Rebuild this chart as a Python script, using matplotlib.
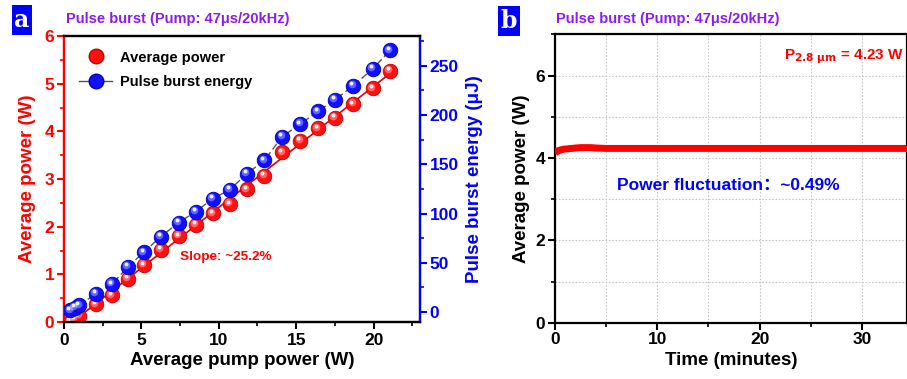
import numpy as np
import matplotlib
matplotlib.use("Agg")
import matplotlib.pyplot as plt
from matplotlib.transforms import offset_copy
from matplotlib.lines import Line2D
from matplotlib.ticker import MultipleLocator

plt.rcParams['font.family'] = ['Liberation Sans', 'Noto Sans CJK SC', 'DejaVu Sans']
plt.rcParams['font.weight'] = 'bold'

# ---------------- data ----------------
pump_power = [0.4, 0.7, 1.0, 2.05, 3.1, 4.13, 5.14, 6.25, 7.4, 8.5, 9.6, 10.7,
              11.8, 12.95, 14.09, 15.25, 16.39, 17.5, 18.69, 19.94, 21.06]
avg_power = [0.01, 0.06, 0.12, 0.37, 0.56, 0.91, 1.19, 1.52, 1.80, 2.04, 2.28, 2.47,
             2.78, 3.07, 3.56, 3.80, 4.06, 4.29, 4.57, 4.90, 5.27]
burst_energy = [1.7, 4.5, 6.8, 18.8, 28.3, 45.9, 60.6, 76.5, 90.8, 101.7, 115.0, 124.0,
                140.2, 153.8, 178.0, 190.5, 203.5, 215.3, 229.6, 246.6, 265.3]

time_min = [0.0, 0.1, 0.25, 0.5, 0.8, 1.2, 1.6, 2.0, 2.5, 3.0, 3.5, 4.0, 4.5, 5.0,
            10.0, 15.0, 20.0, 25.0, 30.0, 35.0]
stab_power = [4.10, 4.14, 4.17, 4.19, 4.21, 4.22, 4.23, 4.24, 4.25, 4.25, 4.25, 4.24, 4.235, 4.23,
              4.23, 4.23, 4.23, 4.23, 4.23, 4.23]

title_txt = "Pulse burst (Pump: 47\u03bcs/20kHz)"
purple = '#8A1CF0'
RED = '#FF0000'
BLUE = '#0000FF'

W, H = 907, 379
fig = plt.figure(figsize=(W / 100, H / 100), dpi=100)


def balls(ax, x, y, color, edge, zorder=5):
    ax.plot(x, y, 'o', ms=10.5, mfc=color, mec=edge, mew=0.6, zorder=zorder, ls='none')
    tr = offset_copy(ax.transData, fig=fig, x=-1.5, y=1.8, units='dots')
    ax.plot(x, y, 'o', ms=5.5, mfc='white', mec='none', alpha=0.35, transform=tr, zorder=zorder + 0.1)
    tr2 = offset_copy(ax.transData, fig=fig, x=-2.0, y=2.6, units='dots')
    ax.plot(x, y, 'o', ms=2.8, mfc='white', mec='none', alpha=0.9, transform=tr2, zorder=zorder + 0.2)


# ---------------- panel a ----------------
axa = fig.add_axes([64 / W, 1 - 322 / H, (420 - 64) / W, (322 - 36) / H])
axa.set_xlim(0, 23)
axa.set_ylim(0, 6)
coef = np.polyfit(pump_power, avg_power, 1)
fx = np.array([pump_power[0], pump_power[-1]])
axa.plot(fx, np.polyval(coef, fx), color='#E00000', lw=1.2, zorder=3)
balls(axa, pump_power, avg_power, '#FF1010', '#C00000')

axb2 = axa.twinx()
axb2.set_ylim(-10, 280)
axb2.plot(pump_power, burst_energy, color='#555555', lw=1.0, ls=(0, (5, 2.5)), zorder=3)
balls(axb2, pump_power, burst_energy, '#1010FF', '#0000B0')

for s in axa.spines.values():
    s.set_linewidth(1.6)
for s in axb2.spines.values():
    s.set_linewidth(1.6)
axb2.spines['left'].set_color(RED)
axb2.spines['right'].set_color(BLUE)
axa.spines['left'].set_color(RED)

axa.xaxis.set_major_locator(MultipleLocator(5))
axa.xaxis.set_minor_locator(MultipleLocator(2.5))
axa.yaxis.set_major_locator(MultipleLocator(1))
axa.yaxis.set_minor_locator(MultipleLocator(0.5))
axb2.yaxis.set_major_locator(MultipleLocator(50))
axb2.yaxis.set_minor_locator(MultipleLocator(25))

axa.tick_params(axis='x', which='major', direction='out', length=5, width=1.5, labelsize=12.5, pad=3)
axa.tick_params(axis='x', which='minor', direction='out', length=3, width=1.2)
axa.tick_params(axis='y', which='major', direction='out', length=5, width=1.5, labelsize=12.5,
                colors=RED, pad=2)
axa.tick_params(axis='y', which='minor', direction='out', length=3, width=1.2, colors=RED)
axb2.tick_params(axis='y', which='major', direction='out', length=5, width=1.5, labelsize=12.5,
                 colors=BLUE, pad=2)
axb2.tick_params(axis='y', which='minor', direction='out', length=3, width=1.2, colors=BLUE)
for lab in axa.get_xticklabels() + axa.get_yticklabels() + axb2.get_yticklabels():
    lab.set_fontweight('bold')

axa.set_xlabel('Average pump power (W)', fontsize=13.5, fontweight='bold', labelpad=3)
axa.set_ylabel('Average power (W)', fontsize=13.5, fontweight='bold', color=RED, labelpad=6)
axb2.set_ylabel('Pulse burst energy (\u03bcJ)', fontsize=13.5, fontweight='bold', color=BLUE, labelpad=5)

axa.text(180 / W, 1 - 257 / H, 'Slope: ~25.2%', transform=fig.transFigure, color=RED,
         fontsize=9.7, fontweight='bold', va='center', ha='left')

# legend
h1 = Line2D([], [], ls='none', marker='o', ms=10.5, mfc='#FF1010', mec='#C00000')
h2 = Line2D([], [], color='#555555', lw=1.0, marker='o', ms=10.5, mfc='#1010FF', mec='#0000B0')
leg = axb2.legend([h1, h2], ['Average power', 'Pulse burst energy'], loc='upper left',
                  bbox_to_anchor=(0.005, 0.995), frameon=False, fontsize=10.5,
                  handlelength=2.3, labelspacing=0.75, handletextpad=0.5)
for t in leg.get_texts():
    t.set_fontweight('bold')

fig.text(66 / W, 1 - 19 / H, title_txt, color=purple, fontsize=10.5, fontweight='bold',
         va='center', ha='left')
fig.text(22 / W, 1 - 20 / H, 'a', color='white', fontsize=17, fontweight='bold',
         family='DejaVu Serif', ha='center', va='center',
         bbox=dict(boxstyle='square,pad=0.12', fc='#0000FF', ec='none'))

# ---------------- panel b ----------------
axc = fig.add_axes([555 / W, 1 - 322.7 / H, (W - 555) / W, (322.7 - 34.3) / H])
axc.set_xlim(0, 34.4)
axc.set_ylim(0, 7)
axc.plot(time_min, stab_power, color='#FF0000', lw=5, solid_capstyle='butt', zorder=3)
axc.xaxis.set_major_locator(MultipleLocator(10))
axc.xaxis.set_minor_locator(MultipleLocator(5))
axc.yaxis.set_major_locator(MultipleLocator(2))
axc.yaxis.set_minor_locator(MultipleLocator(1))
axc.grid(True, which='both', color='#C8C8C8', ls=(0, (1.5, 1.5)), lw=0.8)
axc.set_axisbelow(True)
for s in axc.spines.values():
    s.set_linewidth(1.6)
axc.tick_params(axis='both', which='major', direction='out', length=5, width=1.5, labelsize=12.5, pad=2)
axc.tick_params(axis='both', which='minor', direction='out', length=3, width=1.2)
for lab in axc.get_xticklabels() + axc.get_yticklabels():
    lab.set_fontweight('bold')
axc.set_xlabel('Time (minutes)', fontsize=13.5, fontweight='bold', labelpad=3)
axc.set_ylabel('Average power (W)', fontsize=13.5, fontweight='bold', labelpad=4)

fig.text(904 / W, 1 - 57 / H, r'P$_{\mathbf{2.8\ \mu m}}$ = 4.23 W', color=RED, fontsize=11,
         fontweight='bold', ha='right', va='center')
fig.text(617 / W, 1 - 185 / H, 'Power fluctuation\uff1a~0.49%', color=BLUE, fontsize=12.5,
         fontweight='bold', ha='left', va='center',
         family=['Liberation Sans', 'Noto Sans CJK SC'])

fig.text(556 / W, 1 - 19 / H, title_txt, color=purple, fontsize=10.5, fontweight='bold',
         va='center', ha='left')
fig.text(509 / W, 1 - 21 / H, 'b', color='white', fontsize=17, fontweight='bold',
         family='DejaVu Serif', ha='center', va='center',
         bbox=dict(boxstyle='square,pad=0.12', fc='#0000FF', ec='none'))

fig.savefig('out.png', dpi=100)
